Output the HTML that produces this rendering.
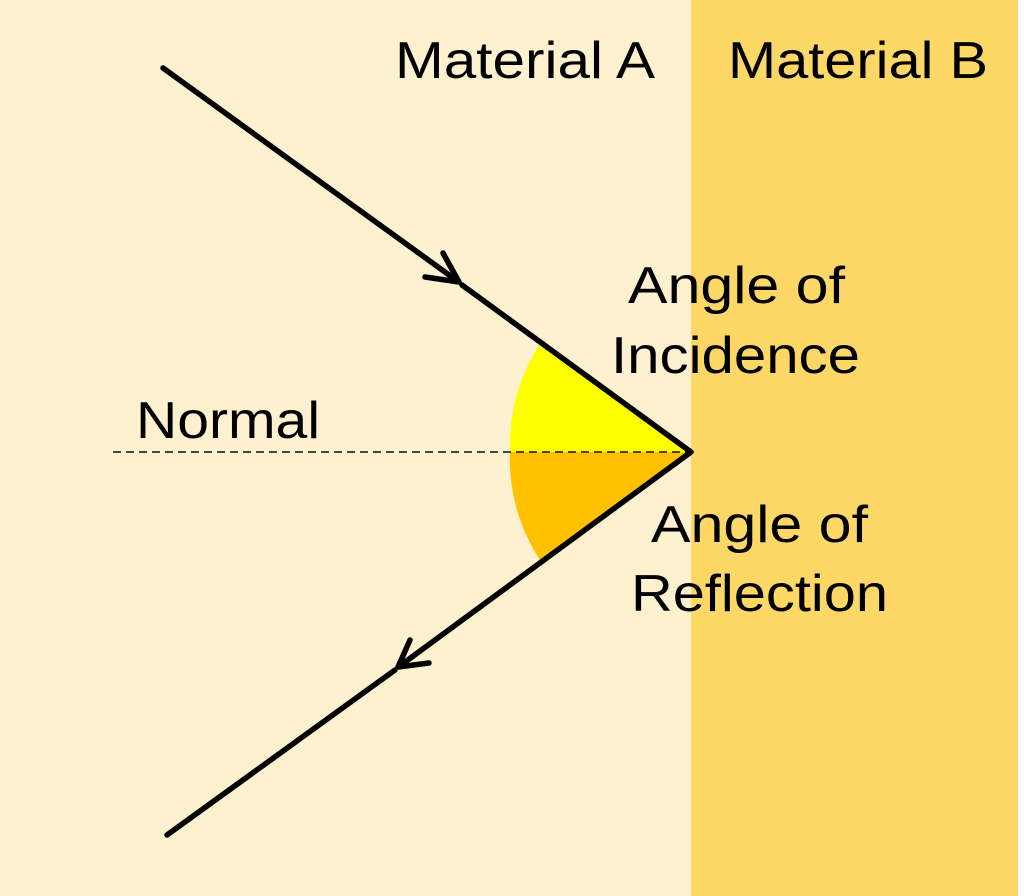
<!DOCTYPE html>
<html><head><meta charset="utf-8"><style>
html,body{margin:0;padding:0;background:#fff;}
svg{display:block;}
text{font-family:"Liberation Sans",sans-serif;font-size:52px;fill:#000;}
</style></head><body>
<svg width="1024" height="896" viewBox="0 0 1024 896">
<rect x="0" y="0" width="1024" height="896" fill="#fff"/>
<rect x="0" y="0" width="691" height="896" fill="#fef1cf"/>
<rect x="691" y="0" width="327" height="896" fill="#fdd866"/>
<path d="M691,452 L540,344 A184,184 0 0 0 510,452 Z" fill="#ffff00"/>
<path d="M691,452 L540,560 A184,184 0 0 1 510,452 Z" fill="#ffc000"/>
<line x1="113" y1="452" x2="691" y2="452" stroke="#111" stroke-width="1.5" stroke-dasharray="8,5"/>
<g stroke="#000" stroke-width="5.5" stroke-linecap="round" fill="none" stroke-linejoin="round">
<line x1="163" y1="68" x2="456" y2="280"/>
<line x1="462" y1="285" x2="691" y2="452"/>
<polyline points="443,253 459,282 425,277"/>
<line x1="691" y1="452" x2="401" y2="665"/>
<line x1="395" y1="670" x2="167" y2="835"/>
<polyline points="410,640 398,667 429,663"/>
</g>
<text x="395" y="78" textLength="260" lengthAdjust="spacingAndGlyphs">Material A</text>
<text x="728" y="78" textLength="260" lengthAdjust="spacingAndGlyphs">Material B</text>
<text x="136" y="438" textLength="184" lengthAdjust="spacingAndGlyphs">Normal</text>
<text x="628" y="303" textLength="217" lengthAdjust="spacingAndGlyphs">Angle of</text>
<text x="611" y="373" textLength="249" lengthAdjust="spacingAndGlyphs">Incidence</text>
<text x="651" y="542" textLength="217" lengthAdjust="spacingAndGlyphs">Angle of</text>
<text x="631" y="611" textLength="257" lengthAdjust="spacingAndGlyphs">Reflection</text>
</svg>
</body></html>
